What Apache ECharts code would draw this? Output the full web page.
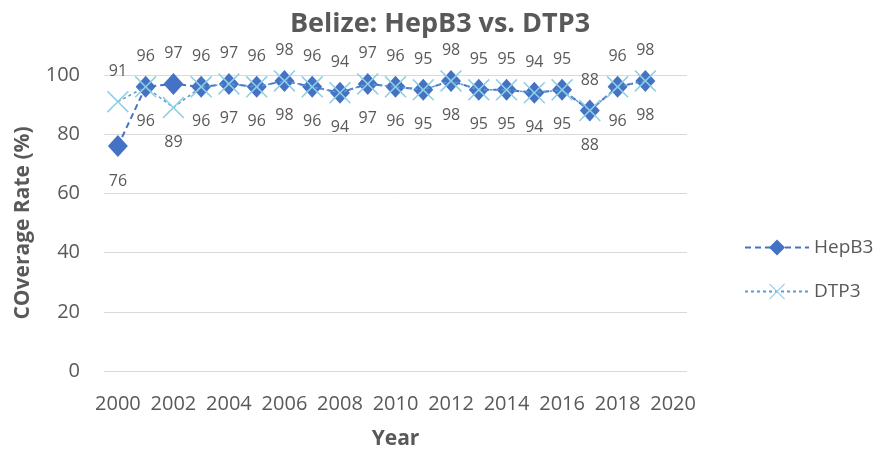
<!DOCTYPE html>
<html><head><meta charset="utf-8">
<script src="https://cdn.jsdelivr.net/npm/echarts@6/dist/echarts.min.js"></script>
<style>html,body{margin:0;padding:0;background:#fff}#c{width:880px;height:452px}</style>
</head><body><div id="c"></div>
<script>
var years = ['2000','2001','2002','2003','2004','2005','2006','2007','2008','2009','2010','2011','2012','2013','2014','2015','2016','2017','2018','2019','2020'];
var hepB3 = [76,96,97,96,97,96,98,96,94,97,96,95,98,95,95,94,95,88,96,98];
var dtp3  = [91,96,89,96,97,96,98,96,94,97,96,95,98,95,95,94,95,88,96,98];
var yTicks = [0,20,40,60,80,100];

var FONT = '"Open Sans", sans-serif';
var GRAY = '#595959';
var crossPath = 'path://M0,5L5,0L50,45L95,0L100,5L55,50L100,95L95,100L50,55L5,100L0,95L45,50Z';

// label placement: HepB3 above, DTP3 below, except first year swapped
function labeled(arr, defaultPos, exceptions) {
  return arr.map(function (v, i) {
    var pos = exceptions[i] || defaultPos;
    return { value: v, label: { position: pos, distance: pos === 'top' ? 11 : 16 } };
  });
}

var chart = echarts.init(document.getElementById('c'), null, { renderer: 'canvas' });
chart.setOption({
  animation: false,
  textStyle: { fontFamily: FONT },
  title: {
    text: 'Belize: HepB3 vs. DTP3',
    left: 'center', top: 6,
    textStyle: { fontFamily: FONT, fontSize: 27, fontWeight: 'bold', color: GRAY }
  },
  legend: {
    orient: 'vertical', left: 739, top: 233,
    itemWidth: 64, itemHeight: 20, itemGap: 25,
    textStyle: { fontFamily: FONT, fontSize: 19, color: GRAY },
    data: ['HepB3', 'DTP3']
  },
  grid: { left: 104, right: 193, top: 75, bottom: 81, containLabel: false, outerBoundsMode: 'none' },
  xAxis: {
    type: 'category', data: years, boundaryGap: true,
    name: 'Year', nameLocation: 'middle', nameGap: 58,
    nameTextStyle: { fontFamily: FONT, fontSize: 21, fontWeight: 'bold', color: GRAY },
    axisLine: { show: false }, axisTick: { show: false },
    axisLabel: { interval: 1, fontFamily: FONT, fontSize: 20, color: GRAY, margin: 23 }
  },
  yAxis: {
    type: 'value', min: yTicks[0], max: yTicks[yTicks.length - 1], interval: 20,
    name: 'COverage Rate (%)', nameLocation: 'middle', nameGap: 70,
    nameTextStyle: { fontFamily: FONT, fontSize: 21, fontWeight: 'bold', color: GRAY },
    axisLine: { show: false }, axisTick: { show: false },
    axisLabel: { fontFamily: FONT, fontSize: 20, color: GRAY, margin: 24 },
    splitLine: { lineStyle: { color: '#D9D9D9', width: 1 } }
  },
  series: [
    {
      name: 'HepB3', type: 'line', data: labeled(hepB3, 'top', { 0: 'bottom' }),
      symbol: 'diamond', symbolSize: [20, 22], showAllSymbol: true,
      itemStyle: { color: '#4472C4' },
      lineStyle: { color: '#4472C4', width: 2, type: [6, 4] },
      label: { show: true, fontFamily: FONT, fontSize: 16, color: GRAY },
      z: 2
    },
    {
      name: 'DTP3', type: 'line', data: labeled(dtp3, 'bottom', { 0: 'top' }),
      symbol: crossPath, symbolSize: 22, showAllSymbol: true,
      itemStyle: { color: '#8ECFE3' },
      lineStyle: { color: '#5B9BD5', width: 1.5, type: [3, 3] },
      label: { show: true, fontFamily: FONT, fontSize: 16, color: GRAY },
      z: 3
    }
  ]
});
</script></body></html>
